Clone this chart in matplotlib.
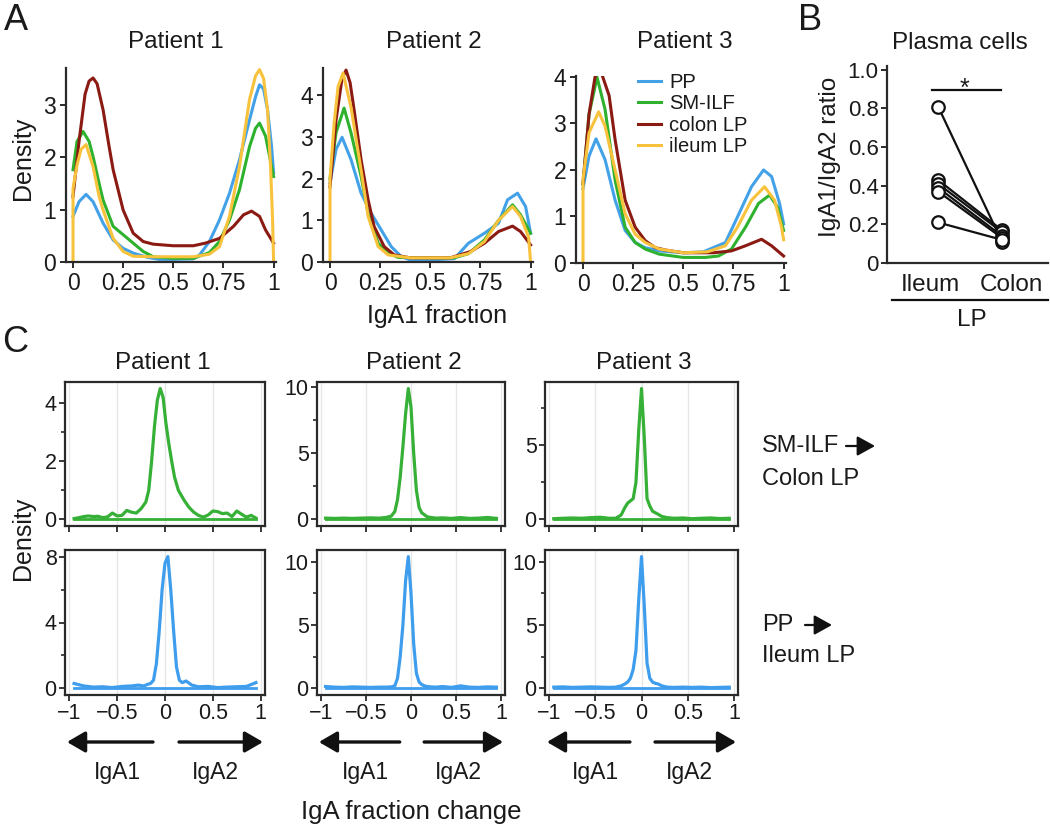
import matplotlib
matplotlib.use('Agg')
import matplotlib.pyplot as plt
import matplotlib.transforms as mtransforms
from matplotlib.lines import Line2D
from matplotlib.patches import FancyArrowPatch

plt.rcParams['font.family'] = ['Liberation Sans', 'DejaVu Sans']
plt.rcParams['text.color'] = '#1a1a1a'
plt.rcParams['axes.edgecolor'] = '#2a2a2a'
plt.rcParams['xtick.color'] = '#2a2a2a'
plt.rcParams['ytick.color'] = '#2a2a2a'
plt.rcParams['xtick.labelcolor'] = '#1a1a1a'
plt.rcParams['ytick.labelcolor'] = '#1a1a1a'

# ---------------- Data: panel A (IgA1 fraction densities) ----------------
series_A = ['PP', 'SM-ILF', 'colon LP', 'ileum LP']
patients = ['Patient 1', 'Patient 2', 'Patient 3']

# Patient 1
p1_pp_x = [0, 0.03, 0.065, 0.1, 0.15, 0.2, 0.25, 0.3, 0.37, 0.43, 0.5, 0.6, 0.63, 0.68, 0.73, 0.78, 0.83, 0.88, 0.91, 0.93, 0.95, 0.97, 0.99, 1.0]
p1_pp_y = [0.87, 1.15, 1.29, 1.15, 0.74, 0.42, 0.26, 0.17, 0.09, 0.05, 0.05, 0.06, 0.13, 0.39, 0.8, 1.31, 1.95, 2.71, 3.15, 3.38, 3.3, 2.9, 2.2, 1.7]
p1_sm_x = [0, 0.02, 0.05, 0.08, 0.1, 0.13, 0.15, 0.2, 0.25, 0.3, 0.35, 0.4, 0.5, 0.6, 0.68, 0.73, 0.78, 0.83, 0.88, 0.91, 0.93, 0.96, 1.0]
p1_sm_y = [1.76, 2.3, 2.49, 2.3, 2.01, 1.5, 1.18, 0.68, 0.52, 0.36, 0.2, 0.1, 0.07, 0.07, 0.18, 0.39, 0.8, 1.38, 2.2, 2.55, 2.65, 2.4, 1.63]
p1_co_x = [0, 0.03, 0.06, 0.08, 0.1, 0.12, 0.15, 0.18, 0.2, 0.25, 0.3, 0.35, 0.4, 0.5, 0.6, 0.66, 0.73, 0.8, 0.85, 0.89, 0.93, 0.96, 1.0]
p1_co_y = [1.25, 2.3, 3.2, 3.45, 3.51, 3.4, 2.9, 2.2, 1.76, 0.99, 0.55, 0.39, 0.34, 0.31, 0.31, 0.36, 0.45, 0.68, 0.9, 0.97, 0.87, 0.61, 0.36]
p1_il_x = [0, 0, 0.02, 0.04, 0.065, 0.1, 0.13, 0.15, 0.2, 0.25, 0.3, 0.4, 0.5, 0.6, 0.68, 0.73, 0.78, 0.83, 0.88, 0.91, 0.93, 0.95, 0.97, 0.985, 0.995, 1.0]
p1_il_y = [0, 1.4, 1.85, 2.15, 2.24, 1.82, 1.25, 0.99, 0.45, 0.2, 0.11, 0.1, 0.1, 0.1, 0.15, 0.29, 0.87, 1.82, 3.1, 3.55, 3.67, 3.5, 2.9, 1.8, 0.8, 0]

# Patient 2
p2_pp_x = [0, 0.03, 0.06, 0.105, 0.155, 0.205, 0.255, 0.305, 0.355, 0.4, 0.5, 0.62, 0.69, 0.77, 0.84, 0.885, 0.935, 0.975, 1.0]
p2_pp_y = [1.9, 2.7, 2.99, 2.45, 1.65, 1.17, 0.77, 0.37, 0.13, 0.05, 0.05, 0.08, 0.45, 0.69, 0.93, 1.49, 1.65, 1.33, 0.69]
p2_sm_x = [0, 0.03, 0.07, 0.105, 0.155, 0.19, 0.24, 0.29, 0.34, 0.5, 0.62, 0.69, 0.77, 0.84, 0.91, 0.95, 1.0]
p2_sm_y = [2.0, 3.1, 3.69, 3.09, 2.05, 1.17, 0.45, 0.21, 0.11, 0.1, 0.1, 0.2, 0.53, 1.0, 1.37, 1.13, 0.69]
p2_co_x = [0, 0.03, 0.06, 0.08, 0.1, 0.12, 0.155, 0.19, 0.22, 0.27, 0.32, 0.4, 0.6, 0.7, 0.77, 0.84, 0.91, 0.95, 1.0]
p2_co_y = [1.8, 3.4, 4.4, 4.6, 4.3, 3.65, 2.45, 1.49, 0.85, 0.37, 0.17, 0.1, 0.1, 0.25, 0.45, 0.73, 0.86, 0.73, 0.41]
p2_il_x = [0, 0, 0.02, 0.04, 0.065, 0.105, 0.155, 0.19, 0.24, 0.29, 0.4, 0.6, 0.69, 0.77, 0.84, 0.91, 0.95, 0.99, 1.0]
p2_il_y = [0, 2.0, 3.3, 4.2, 4.53, 3.7, 2.2, 1.09, 0.37, 0.17, 0.1, 0.1, 0.2, 0.49, 1.0, 1.33, 1.09, 0.6, 0]

# Patient 3
p3_pp_x = [0, 0.03, 0.065, 0.11, 0.16, 0.21, 0.26, 0.31, 0.38, 0.5, 0.6, 0.71, 0.77, 0.84, 0.9, 0.94, 0.98, 1.0]
p3_pp_y = [1.6, 2.3, 2.67, 2.22, 1.35, 0.7, 0.44, 0.33, 0.26, 0.22, 0.24, 0.44, 0.99, 1.64, 2.0, 1.86, 1.28, 0.84]
p3_sm_x = [0, 0.03, 0.07, 0.11, 0.16, 0.21, 0.26, 0.31, 0.38, 0.5, 0.61, 0.675, 0.74, 0.81, 0.875, 0.93, 0.97, 1.0]
p3_sm_y = [1.7, 3.2, 3.99, 3.3, 1.78, 0.77, 0.44, 0.3, 0.19, 0.12, 0.12, 0.15, 0.3, 0.77, 1.28, 1.46, 1.2, 0.7]
p3_co_x = [0, 0.03, 0.06, 0.085, 0.13, 0.16, 0.21, 0.26, 0.31, 0.36, 0.41, 0.5, 0.65, 0.74, 0.81, 0.89, 0.94, 1.0]
p3_co_y = [1.71, 3.2, 4.0, 4.17, 3.6, 2.65, 1.35, 0.77, 0.48, 0.33, 0.28, 0.22, 0.22, 0.26, 0.37, 0.51, 0.37, 0.15]
p3_il_x = [0, 0, 0.03, 0.078, 0.11, 0.16, 0.21, 0.26, 0.31, 0.38, 0.5, 0.62, 0.71, 0.77, 0.84, 0.905, 0.955, 0.99, 1.0]
p3_il_y = [0, 1.8, 2.8, 3.25, 2.94, 2.0, 1.06, 0.62, 0.44, 0.3, 0.22, 0.24, 0.37, 0.77, 1.35, 1.64, 1.35, 0.77, 0.5]

A_xticks = [0, 0.25, 0.5, 0.75, 1]
A_xticklabels = ['0', '0.25', '0.5', '0.75', '1']

# ---------------- Data: panel B ----------------
B_groups = ['Ileum', 'Colon']
ileum_ratio = [0.81, 0.43, 0.41, 0.39, 0.37, 0.21]
colon_ratio = [0.11, 0.17, 0.16, 0.14, 0.13, 0.12]

# ---------------- Data: panel C (IgA fraction change densities) ----------------
c_grid = [-0.95, -0.85, -0.75, -0.65, -0.55, -0.45, -0.35, -0.28, -0.22, -0.18, -0.15, -0.12, -0.09, -0.06,
          -0.03, 0, 0.03, 0.06, 0.09, 0.12, 0.15, 0.18, 0.22, 0.28, 0.35, 0.45, 0.55, 0.65, 0.75, 0.85, 0.95]

c_sm_p1_x = [-0.95, -0.9, -0.85, -0.8, -0.75, -0.7, -0.65, -0.6, -0.55, -0.5, -0.45, -0.4, -0.35, -0.3, -0.25,
             -0.2, -0.17, -0.14, -0.11, -0.08, -0.05, -0.02, 0.01, 0.04, 0.07, 0.1, 0.14, 0.2, 0.25, 0.3, 0.35,
             0.4, 0.45, 0.5, 0.55, 0.6, 0.65, 0.7, 0.75, 0.8, 0.85, 0.9, 0.95]
c_sm_p1_y = [0.03, 0.06, 0.1, 0.12, 0.1, 0.11, 0.06, 0.09, 0.22, 0.12, 0.14, 0.31, 0.25, 0.22, 0.37,
             0.6, 1.0, 2.0, 3.2, 4.1, 4.5, 4.2, 3.3, 2.6, 2.0, 1.45, 1.0, 0.66, 0.42, 0.25, 0.14,
             0.08, 0.15, 0.29, 0.27, 0.2, 0.22, 0.1, 0.29, 0.18, 0.08, 0.14, 0.05]
c_sm_p2_y = [0.1, 0.08, 0.1, 0.08, 0.1, 0.12, 0.1, 0.15, 0.25, 0.6, 1.5, 3.2, 5.5, 8.0, 9.9, 8.5, 5.0, 2.2,
             0.9, 0.5, 0.35, 0.2, 0.15, 0.1, 0.12, 0.08, 0.14, 0.08, 0.1, 0.15, 0.08]
c_sm_p3_y = [0.05, 0.08, 0.1, 0.08, 0.12, 0.15, 0.08, 0.08, 0.3, 0.8, 1.1, 1.25, 1.4, 2.5, 6.0, 8.8, 5.5, 1.4,
             0.9, 0.55, 0.45, 0.35, 0.2, 0.12, 0.08, 0.1, 0.05, 0.08, 0.1, 0.06, 0.08]
c_pp_p1_y = [0.3, 0.15, 0.08, 0.1, 0.05, 0.12, 0.15, 0.2, 0.15, 0.25, 0.3, 0.5, 1.5, 3.5, 6.0, 7.6, 8.0, 6.0,
             3.5, 1.3, 0.5, 0.35, 0.45, 0.2, 0.1, 0.12, 0.05, 0.08, 0.1, 0.12, 0.35]
c_pp_p2_y = [0.15, 0.1, 0.08, 0.12, 0.1, 0.08, 0.1, 0.1, 0.12, 0.2, 0.8, 2.5, 5.0, 8.5, 10.4, 7.5, 3.5, 1.2,
             0.5, 0.3, 0.2, 0.15, 0.12, 0.1, 0.15, 0.08, 0.2, 0.1, 0.08, 0.12, 0.1]
c_pp_p3_y = [0.1, 0.12, 0.08, 0.1, 0.12, 0.1, 0.08, 0.1, 0.2, 0.35, 0.5, 0.8, 1.5, 3.0, 7.0, 10.4, 6.5, 2.0,
             0.8, 0.5, 0.4, 0.35, 0.2, 0.1, 0.08, 0.1, 0.08, 0.1, 0.06, 0.08, 0.1]

C_row_labels = [('SM-ILF', 'Colon LP'), ('PP', 'Ileum LP')]
C_xticks = [-1, -0.5, 0, 0.5, 1]
C_xticklabels = ['\u22121', '\u22120.5', '0', '0.5', '1']
C_yticks = [[[0, 2, 4], [0, 5, 10], [0, 5]], [[0, 4, 8], [0, 5, 10], [0, 5, 10]]]
C_yminor = [[[1, 3], [2.5, 7.5], [2.5, 7.5]], [[2, 6], [2.5, 7.5], [2.5, 7.5]]]

# ---------------- Styling ----------------
colors_A = ['#43a1e8', '#2eb22e', '#8a1a12', '#f8c23c']
green_C = '#36b036'
blue_C = '#3f9ded'

W, H = 1050, 831
fig = plt.figure(figsize=(W / 100, H / 100), dpi=100)


def box(l, t, r, b):
    return fig.add_axes([l / W, 1 - b / H, (r - l) / W, (b - t) / H])


def ftext(x, y, s, **kw):
    return fig.text(x / W, 1 - y / H, s, **kw)


def farrow(x0, y0, x1, y1, ms, hl, hw, lw):
    a = FancyArrowPatch((x0 / W, 1 - y0 / H), (x1 / W, 1 - y1 / H), transform=fig.transFigure,
                        arrowstyle='-|>,head_length=%g,head_width=%g' % (hl, hw),
                        mutation_scale=ms, lw=lw, color='#111111', shrinkA=0, shrinkB=0)
    fig.add_artist(a)


# ---------------- Panel A ----------------
A_data = [
    [(p1_pp_x, p1_pp_y), (p1_sm_x, p1_sm_y), (p1_co_x, p1_co_y), (p1_il_x, p1_il_y)],
    [(p2_pp_x, p2_pp_y), (p2_sm_x, p2_sm_y), (p2_co_x, p2_co_y), (p2_il_x, p2_il_y)],
    [(p3_pp_x, p3_pp_y), (p3_sm_x, p3_sm_y), (p3_co_x, p3_co_y), (p3_il_x, p3_il_y)],
]
A_pos = [(66, 68, 276, 262), (323, 68, 533, 262), (576, 76, 786, 263)]
A_ytop = [3.7, 4.65, 4.02]
A_yticks = [[0, 1, 2, 3], [0, 1, 2, 3, 4], [0, 1, 2, 3, 4]]
A_title_x = [176, 434, 685]

for i in range(3):
    ax = box(*A_pos[i])
    for j in range(4):
        xs, ys = A_data[i][j]
        ax.plot(xs, ys, color=colors_A[j], lw=2.2, label=series_A[j], solid_joinstyle='round')
    ax.set_xlim(-0.035, 1.012)
    ax.set_ylim(0, A_ytop[i])
    ax.set_xticks(A_xticks)
    ax.set_xticklabels(A_xticklabels)
    ax.set_yticks(A_yticks[i])
    for s in ['top', 'right']:
        ax.spines[s].set_visible(False)
    for s in ['left', 'bottom']:
        ax.spines[s].set_linewidth(1.6)
    ax.tick_params(direction='out', length=4, width=1.4, labelsize=16.5, pad=3)
    ax.patch.set_alpha(0)
    ftext(A_title_x[i], 42, patients[i], ha='center', va='center', fontsize=17.5)
    if i == 2:
        ax.legend(loc='upper left', bbox_to_anchor=(638 / W, 1 - 73 / H), bbox_transform=fig.transFigure,
                  frameon=False, fontsize=14.5, handlelength=1.15, handletextpad=0.4, labelspacing=0.12,
                  borderpad=0, borderaxespad=0)

ftext(23, 158, 'Density', rotation=90, ha='center', va='center', fontsize=18)
ftext(437, 316, 'IgA1 fraction', ha='center', va='center', fontsize=18)

# ---------------- Panel B ----------------
axb = box(887, 66, 1048, 263)
for a, b in zip(ileum_ratio, colon_ratio):
    axb.plot([0, 1], [a, b], color='#111111', lw=1.6, zorder=2)
axb.plot([0] * len(ileum_ratio), ileum_ratio, 'o', mfc='white', mec='#111111', ms=9, mew=1.6, zorder=3)
axb.plot([1] * len(colon_ratio), colon_ratio, 'o', mfc='white', mec='#111111', ms=9, mew=1.6, zorder=3)
axb.plot([-0.1, 0.98], [0.895, 0.895], color='#111111', lw=1.6)
axb.text(0.42, 0.865, '*', ha='center', va='baseline', fontsize=18)
axb.set_xlim(-0.8, 1.72)
axb.set_ylim(0, 1.02)
axb.set_yticks([0, 0.2, 0.4, 0.6, 0.8, 1.0])
axb.set_yticklabels(['0', '0.2', '0.4', '0.6', '0.8', '1.0'])
axb.set_xticks([0, 1])
axb.set_xticklabels(B_groups)
for s in ['top', 'right']:
    axb.spines[s].set_visible(False)
for s in ['left', 'bottom']:
    axb.spines[s].set_linewidth(1.6)
axb.tick_params(axis='y', direction='out', length=4, width=1.4, labelsize=16, pad=2)
axb.tick_params(axis='x', length=0, labelsize=17.5, pad=8)
for lab, dx in zip(axb.get_xticklabels(), [-8, 9]):
    lab.set_transform(lab.get_transform() + mtransforms.ScaledTranslation(dx / 100, 0, fig.dpi_scale_trans))
axb.patch.set_alpha(0)
ftext(960, 43, 'Plasma cells', ha='center', va='center', fontsize=17.5)
ftext(830, 157, 'IgA1/IgA2 ratio', rotation=90, ha='center', va='center', fontsize=17.5)
fig.add_artist(Line2D([892 / W, 1048 / W], [1 - 300 / H, 1 - 300 / H], color='#111111', lw=1.6))
ftext(972, 320, 'LP', ha='center', va='center', fontsize=17.5)

# ---------------- Panel C ----------------
C_data = [
    [(c_sm_p1_x, c_sm_p1_y), (c_grid, c_sm_p2_y), (c_grid, c_sm_p3_y)],
    [(c_grid, c_pp_p1_y), (c_grid, c_pp_p2_y), (c_grid, c_pp_p3_y)],
]
C_colors = [green_C, blue_C]
C_cols = [(65, 265), (317, 505), (545, 738)]
C_rowpos = [(382, 526), (550, 695)]
C_title_x = [163, 414, 644]

for r in range(2):
    for c in range(3):
        l, rr = C_cols[c]
        t, b = C_rowpos[r]
        ax = box(l, t, rr, b)
        for gx in C_xticks:
            ax.axvline(gx, color='#e6e6e6', lw=1.0, zorder=0)
        xs, ys = C_data[r][c]
        ax.plot(xs, ys, color=C_colors[r], lw=2.3, zorder=3, solid_joinstyle='round')
        ax.plot([xs[0], xs[-1]], [0, 0], color=C_colors[r], lw=2.0, zorder=2)
        ax.set_xlim(-1.045, 1.045)
        pk = max(ys)
        ax.set_ylim(-0.05 * pk, 1.05 * pk)
        ax.set_xticks(C_xticks)
        ax.set_yticks(C_yticks[r][c])
        ax.set_yticks(C_yminor[r][c], minor=True)
        for s in ax.spines.values():
            s.set_linewidth(1.6)
        ax.tick_params(which='major', direction='out', length=4, width=1.3, labelsize=15.5, pad=2)
        ax.tick_params(which='minor', direction='out', length=3, width=1.2)
        if r == 0:
            ax.tick_params(axis='x', labelbottom=False)
            ftext(C_title_x[c], 363, patients[c], ha='center', va='center', fontsize=17.5)
        else:
            ax.set_xticklabels(C_xticklabels)
            wdt = rr - l
            farrow(l + 0.44 * wdt, 742, l + 0.01 * wdt, 742, 20, 0.55, 0.32, 2.4)
            farrow(l + 0.57 * wdt, 742, l + 0.99 * wdt, 742, 20, 0.55, 0.32, 2.4)
            ftext(l + 0.26 * wdt, 773, 'IgA1', ha='center', va='center', fontsize=16.5)
            ftext(l + 0.75 * wdt, 773, 'IgA2', ha='center', va='center', fontsize=16.5)

ftext(23, 538, 'Density', rotation=90, ha='center', va='center', fontsize=18)
ftext(411, 812, 'IgA fraction change', ha='center', va='center', fontsize=18.5)

ftext(762, 446, C_row_labels[0][0], ha='left', va='center', fontsize=17)
farrow(846, 446, 875, 446, 12, 0.9, 0.5, 1.6)
ftext(762, 479, C_row_labels[0][1], ha='left', va='center', fontsize=17)
ftext(762, 625, C_row_labels[1][0], ha='left', va='center', fontsize=17)
farrow(805, 625, 832, 625, 12, 0.9, 0.5, 1.6)
ftext(762, 656, C_row_labels[1][1], ha='left', va='center', fontsize=17)

# Panel letters
ftext(16, 20, 'A', ha='center', va='center', fontsize=26)
ftext(810, 21, 'B', ha='center', va='center', fontsize=26)
ftext(15, 342, 'C', ha='center', va='center', fontsize=26)

fig.savefig('out.png', dpi=100)
